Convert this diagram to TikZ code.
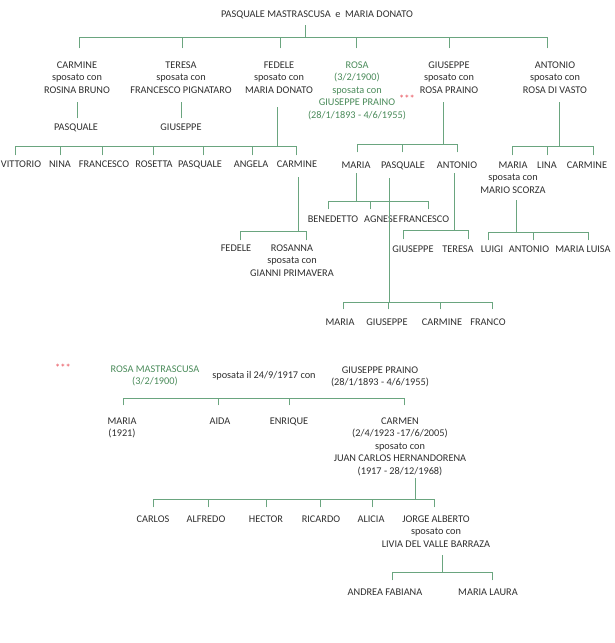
\documentclass[tikz,border=0pt]{standalone}
\usepackage{fontspec}
\setmainfont{Carlito}
\definecolor{txtgray}{HTML}{2E2E2E}
\definecolor{linegreen}{HTML}{6AA57F}
\definecolor{rosagreen}{HTML}{4A8B5A}
\definecolor{starred}{HTML}{E8505B}
\newcommand\fsz{\fontsize{10.3}{12.4}\selectfont}
\newcommand\famline[7]{%
  \draw[conn] (#1,#2) -- (#1,#3);
  \draw[conn] (#5,#3) -- (#6,#3);
  \foreach \xx in {#7} { \draw[conn] (\xx,#3) -- (\xx,#4); }
}
\tikzset{
  txt/.style={font=\fsz, text=txtgray, inner sep=0pt, align=center, anchor=north, yshift=3.3pt},
  grn/.style={txt, text=rosagreen},
  stars/.style={font=\fontsize{10.5}{10.5}\selectfont, text=starred, inner sep=0pt},
  conn/.style={draw=linegreen, line width=0.8pt, line cap=rect},
}
\begin{document}
\begin{tikzpicture}[x=1pt,y=-1pt]
\useasboundingbox (0,0) rectangle (615,643);
% root
\node[txt] (root) at (317,14) {PASQUALE MASTRASCUSA~ e~ MARIA DONATO};
\famline{305}{25}{37}{48}{79}{547}{79,182,280,356,449,547}
% generation 2
\node[txt] (carmine) at (77,65) {CARMINE\\sposato con\\ROSINA BRUNO};
\node[txt] (teresa) at (181,65) {TERESA\\sposata con\\FRANCESCO PIGNATARO};
\node[txt] (fedele) at (279,65) {FEDELE\\sposato con\\MARIA DONATO};
\node[grn] (rosa) at (357,65) {ROSA\\(3/2/1900)\\sposata con\\GIUSEPPE PRAINO\\(28/1/1893 - 4/6/1955)};
\node[stars, anchor=west] (rosastars) at (399,98.5) {***};
\node[txt] (giuseppe) at (449,65) {GIUSEPPE\\sposato con\\ROSA PRAINO};
\node[txt] (antonio) at (555,65) {ANTONIO\\sposato con\\ROSA DI VASTO};
% carmine / teresa children
\draw[conn] (77,102) -- (77,118);
\node[txt] (pasq1) at (76,127) {PASQUALE};
\draw[conn] (181,102) -- (181,118);
\node[txt] (giu1) at (181,127) {GIUSEPPE};
% fedele children
\famline{277}{107}{146}{155}{15}{296}{15,60,102,153,203,252,296}
\node[txt] (vittorio) at (21,164) {VITTORIO};
\node[txt] (nina) at (60,164) {NINA};
\node[txt] (francesco1) at (104,164) {FRANCESCO};
\node[txt] (rosetta) at (154,164) {ROSETTA};
\node[txt] (pasq2) at (200,164) {PASQUALE};
\node[txt] (angela) at (251,164) {ANGELA};
\node[txt] (carmine2) at (297,164) {CARMINE};
% giuseppe children
\famline{443}{102}{144}{152}{357}{457}{357,402,457}
\node[txt] (maria1) at (356,165) {MARIA};
\node[txt] (pasq3) at (403,165) {PASQUALE};
\node[txt] (antonio2) at (457,165) {ANTONIO};
% antonio children
\famline{559}{102}{146}{155}{512}{593}{512,547,593}
\node[txt] (maria2) at (513,165) {MARIA\\sposata con\\MARIO SCORZA};
\node[txt] (lina) at (547,165) {LINA};
\node[txt] (carmine3) at (587,165) {CARMINE};
% carmine2 children
\famline{298}{177}{231}{240}{240}{306}{240,306}
\node[txt] (fedele2) at (236,248) {FEDELE};
\node[txt] (rosanna) at (292,248) {ROSANNA\\sposata con\\GIANNI PRIMAVERA};
% maria1 children
\famline{356}{173}{201}{209}{328}{428}{328,370,428}
\node[txt] (benedetto) at (333,219) {BENEDETTO};
\node[txt] (agnese) at (381,219) {AGNESE};
\node[txt] (francesco2) at (424,219) {FRANCESCO};
% pasq3 children
\famline{389}{178}{302}{309}{343}{492}{343,388,440,492}
\node[txt] (maria3) at (340,322) {MARIA};
\node[txt] (giu2) at (387,322) {GIUSEPPE};
\node[txt] (carmine4) at (442,322) {CARMINE};
\node[txt] (franco) at (488,322) {FRANCO};
% antonio2 children
\famline{454}{173}{230}{239}{403}{468}{403,468}
\node[txt] (giu3) at (413,249) {GIUSEPPE};
\node[txt] (teresa2) at (458,249) {TERESA};
% maria2 children
\famline{516}{200}{232}{240}{488}{588}{488,533,588}
\node[txt] (luigi) at (492,249) {LUIGI};
\node[txt] (antonio3) at (529,249) {ANTONIO};
\node[txt] (marialuisa) at (583,249) {MARIA LUISA};
% bottom section
\node[stars] (stars2) at (63,368) {***};
\node[grn] (rosam) at (155,369) {ROSA MASTRASCUSA\\(3/2/1900)};
\node[txt] (sposata) at (264,374) {sposata il 24/9/1917 con};
\node[txt] (praino) at (380,370) {GIUSEPPE PRAINO\\(28/1/1893 - 4/6/1955)};
\draw[conn] (123,398) -- (404,398);
\foreach \xx in {123,218,289,404} { \draw[conn] (\xx,398) -- (\xx,405); }
\node[txt] (mariab) at (122,421) {MARIA\\(1921)};
\node[txt] (aida) at (220,421) {AIDA};
\node[txt] (enrique) at (289,421) {ENRIQUE};
\node[txt] (carmen) at (400,421) {CARMEN\\(2/4/1923 -17/6/2005)\\sposato con\\JUAN CARLOS HERNANDORENA\\(1917 - 28/12/1968)};
% carmen children
\famline{415}{478}{499}{507}{153}{434}{153,208,266,320,372,434}
\node[txt] (carlos) at (153,519) {CARLOS};
\node[txt] (alfredo) at (206,519) {ALFREDO};
\node[txt] (hector) at (266,519) {HECTOR};
\node[txt] (ricardo) at (321,519) {RICARDO};
\node[txt] (alicia) at (371,519) {ALICIA};
\node[txt] (jorge) at (436,519) {JORGE ALBERTO\\sposato con\\LIVIA DEL VALLE BARRAZA};
% jorge children
\famline{442}{555}{572}{580}{392}{492}{392,492}
\node[txt] (andrea) at (385,592) {ANDREA FABIANA};
\node[txt] (marialaura) at (488,592) {MARIA LAURA};
\end{tikzpicture}
\end{document}
